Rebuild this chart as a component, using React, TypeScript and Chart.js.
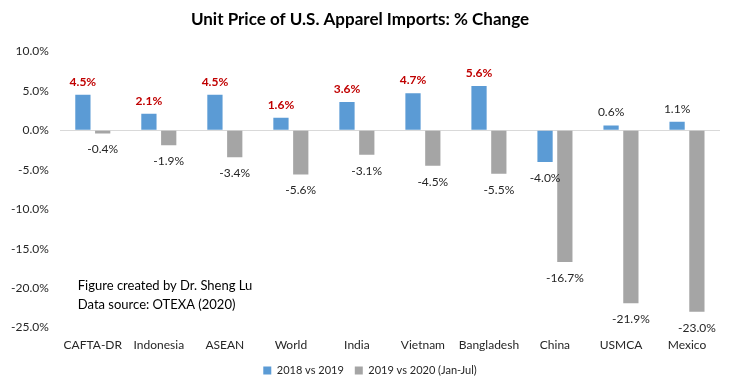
import React, { useEffect, useRef } from "react";
import { Chart, registerables } from "chart.js";

Chart.register(...registerables);

const categories = ["CAFTA-DR", "Indonesia", "ASEAN", "World", "India", "Vietnam", "Bangladesh", "China", "USMCA", "Mexico"];
const series2019 = [4.5, 2.1, 4.5, 1.6, 3.6, 4.7, 5.6, -4.0, 0.6, 1.1];
const series2020 = [-0.4, -1.9, -3.4, -5.6, -3.1, -4.5, -5.5, -16.7, -21.9, -23.0];
const highlightRed = [true, true, true, true, true, true, true, false, false, false];
const seriesNames = ["2018 vs 2019", "2019 vs 2020 (Jan-Jul)"];
const titleText = "Unit Price of U.S. Apparel Imports: % Change";
const noteLines = ["Figure created by Dr. Sheng Lu", "Data source: OTEXA (2020)"];

const FONT = "Lato, 'Liberation Sans', sans-serif";

const labelPlugin = {
  id: "barLabels",
  afterLayout(chart: any) {
    if (chart.legend) {
      chart.legend.left += 10;
      chart.legend.right += 10;
    }
  },
  afterDatasetsDraw(chart: any) {
    const ctx = chart.ctx;
    ctx.save();
    ctx.textAlign = "center";
    ctx.textBaseline = "middle";
    chart.data.datasets.forEach((ds: any, di: number) => {
      const meta = chart.getDatasetMeta(di);
      meta.data.forEach((el: any, i: number) => {
        const v = ds.data[i];
        const red = di === 0 && highlightRed[i];
        ctx.font = (red ? "bold " : "") + "12px " + FONT;
        ctx.fillStyle = red ? "#C00000" : "#262626";
        const y = v >= 0 ? el.y - 13 : el.y + 16;
        ctx.fillText(v.toFixed(1) + "%", el.x, y);
      });
    });
    const x0 = chart.scales.x.left + 18;
    const y0 = chart.scales.y.getPixelForValue(-19.7);
    ctx.textAlign = "left";
    ctx.font = "13px " + FONT;
    ctx.fillStyle = "#000000";
    noteLines.forEach((t, k) => ctx.fillText(t, x0, y0 + k * 19));
    ctx.restore();
  },
};

export default function App() {
  const ref = useRef<HTMLCanvasElement>(null);
  useEffect(() => {
    document.body.style.margin = "0";
    const chart = new Chart(ref.current!, {
      type: "bar",
      data: {
        labels: categories,
        datasets: [
          { label: seriesNames[0], data: series2019, backgroundColor: "#5B9BD5", categoryPercentage: 0.6, barPercentage: 0.77 },
          { label: seriesNames[1], data: series2020, backgroundColor: "#A5A5A5", categoryPercentage: 0.6, barPercentage: 0.77 },
        ],
      },
      options: {
        animation: false,
        responsive: false,
        maintainAspectRatio: false,
        layout: { padding: { left: 0, right: 20, top: 3, bottom: 6 } },
        plugins: {
          title: {
            display: true,
            text: titleText,
            color: "#000000",
            font: { family: FONT, size: 17, weight: "bold" },
            padding: { top: 6, bottom: 22 },
          },
          legend: {
            position: "bottom",
            labels: {
              boxWidth: 8,
              boxHeight: 8,
              color: "#262626",
              font: { family: FONT, size: 11 },
              padding: 11,
            },
          },
          tooltip: { enabled: false },
        },
        scales: {
          x: {
            grid: { display: false },
            border: { display: false },
            ticks: { color: "#262626", font: { family: FONT, size: 12 }, padding: 2, maxRotation: 0 },
          },
          y: {
            min: -25,
            max: 10,
            border: { display: false },
            grid: {
              color: (c: any) => (c.tick && c.tick.value === 0 ? "#D9D9D9" : "transparent"),
              drawTicks: false,
            },
            ticks: {
              stepSize: 5,
              color: "#262626",
              font: { family: FONT, size: 12 },
              padding: 11,
              callback: (v: any) => Number(v).toFixed(1) + "%",
            },
          },
        },
      },
      plugins: [labelPlugin],
    });
    return () => chart.destroy();
  }, []);
  return (
    <div style={{ width: 740, height: 392, background: "#fff" }}>
      <canvas ref={ref} width={740} height={392} />
    </div>
  );
}
